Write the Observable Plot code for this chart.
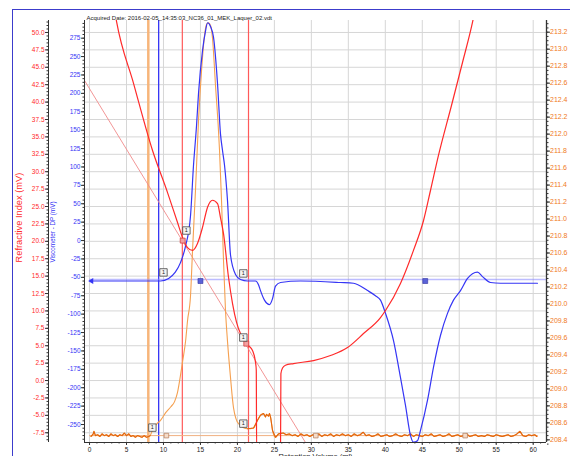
<!DOCTYPE html>
<html><head><meta charset="utf-8">
<script src="https://cdn.jsdelivr.net/npm/d3@7"></script>
<script src="https://cdn.jsdelivr.net/npm/@observablehq/plot@0.6"></script>
<style>
body{margin:0;background:#fff;font-family:"Liberation Sans",Arial,sans-serif;}
#wrap{position:relative;width:570px;height:456px;overflow:hidden;background:#fff;}
#border{position:absolute;left:12px;top:9px;width:700px;height:600px;border-left:1.5px solid #3c3ccc;border-top:1.5px solid #3c3ccc;pointer-events:none;}
#chart{position:absolute;left:0;top:0;}
</style></head><body><div id="wrap"><div id="chart"></div><div id="border"></div></div>
<script>
// ---- text ----
const title = "Acquired Date: 2016-02-05_14:35:03_NC36_01_MEK_Laquer_02.vdt";
const xTitle = "Retention Volume (ml)";
const riTitle = "Refractive Index (mV)";
const viscTitle = "Viscometer - DP (mV)";

// ---- tick labels ----
const xTicks = [0,5,10,15,20,25,30,35,40,45,50,55,60];
const riTicks = [50.0,47.5,45.0,42.5,40.0,37.5,35.0,32.5,30.0,27.5,25.0,22.5,20.0,17.5,15.0,12.5,10.0,7.5,5.0,2.5,0.0,-2.5,-5.0,-7.5];
const viscTicks = [275,250,225,200,175,150,125,100,75,50,25,0,-25,-50,-75,-100,-125,-150,-175,-200,-225,-250];
const rightTicks = [213.2,213.0,212.8,212.6,212.4,212.2,212.0,211.8,211.6,211.4,211.2,211.0,210.8,210.6,210.4,210.2,210.0,209.8,209.6,209.4,209.2,209.0,208.8,208.6,208.4];

// ---- Refractive index trace (ml, mV) ----
const riVolume = [3.5,3.65,5.95,8.52,10.55,11.9,12.58,13.25,13.93,14.6,15.28,15.96,16.63,17.31,17.71,18.12,18.8,19.34,20.42,20.82,21.5,22.04,22.45,22.55,22.6,25.83,25.88,26.1,26.5,27.59,30.29,32.59,34.89,37.05,39.35,40.03,42.05,43.81,45.17,46.11,47.19,48.95,50.44,51.79,52.0];
const riSignal = [52.5,51.6,42.7,33.05,27.0,22.7,20.55,19.1,18.7,19.7,22.0,24.9,25.9,25.4,23.4,21.1,14.8,11.06,6.75,6.18,5.03,4.31,2.6,1.5,-10,-10,1.0,1.8,2.2,2.44,2.87,3.59,4.74,6.75,9.05,10.06,13.94,18.7,22.99,27.3,32.33,39.51,45.69,51.44,52.5];

// ---- Viscometer DP trace (ml, mV) ----
const viscVolume = [0.27,8.25,9.6,10.7,11.6,12.3,13.0,13.66,14.06,14.47,14.74,15.28,15.69,15.96,16.36,16.77,17.31,17.71,17.99,18.26,18.66,19.07,19.74,20.42,21.37,22.45,22.85,23.12,23.66,24.34,24.75,25.15,25.83,28.53,33.94,35.7,37.6,38.67,39.35,40.03,41.11,42.05,42.73,43.41,43.81,44.35,44.76,45.71,46.52,47.46,48.41,49.22,50.17,51.12,51.79,52.47,53.14,54.23,55.58,60.58];
const viscSignal = [-55,-55,-55,-51.5,-43,-30,-7,34,102,156,200,258,285,296,291,276,213,145,122,102,54,-20,-46,-53,-55,-55,-60,-68,-81,-87,-79,-62,-57,-55,-57,-58,-68,-75,-81,-99,-136,-186,-224,-265,-274,-272,-258,-217,-172,-129,-99,-81,-68,-51.5,-45,-43,-49,-57,-58,-58];

// ---- Right-axis detector trace (ml, mV) ----
const rVolume = [0.2,0.5,0.6,0.8,1.1,1.4,1.7,2.0,2.3,2.6,2.9,3.2,3.5,3.8,4.1,4.4,4.7,5.0,5.3,5.6,5.9,6.2,6.5,6.8,7.1,7.4,7.7,8.0,8.2,8.5,9.0,9.6,10.3,11.0,11.5,11.9,12.3,12.6,13.0,13.25,13.66,13.93,14.33,14.74,15.15,15.55,15.82,16.09,16.36,16.63,17.04,17.44,17.58,17.85,18.12,18.39,18.66,19.07,19.47,20.15,21.37,22.18,22.72,23.12,23.53,23.8,23.93,24.2,24.34,24.5,24.75,25.15,25.56,26.2,26.6,27.0,27.4,27.8,28.2,28.6,29.0,29.4,29.8,30.2,30.6,31.0,31.4,31.8,32.2,32.6,33.0,33.4,33.8,34.2,34.6,35.0,35.4,35.8,36.2,36.6,37.0,37.4,37.8,38.2,38.6,39.0,39.4,39.8,40.2,40.6,41.0,41.4,41.8,42.2,42.6,43.0,43.4,43.8,44.2,44.6,45.0,45.4,45.8,46.2,46.6,47.0,47.4,47.8,48.2,48.6,49.0,49.4,49.8,50.2,50.6,51.0,51.4,51.8,52.2,52.6,53.0,53.4,53.8,54.2,54.6,55.0,55.4,55.8,56.2,56.6,57.0,57.4,57.8,58.2,58.6,59.0,59.4,59.8,60.2,60.5];
const rSignal = [208.44,208.47,208.50,208.45,208.46,208.44,208.47,208.45,208.46,208.44,208.47,208.45,208.46,208.44,208.46,208.45,208.48,208.45,208.47,208.44,208.45,208.43,208.45,208.44,208.43,208.45,208.43,208.44,208.45,208.51,208.58,208.63,208.72,208.79,208.85,208.96,209.16,209.33,209.57,209.80,210.10,210.63,211.34,212.16,212.75,213.16,213.29,213.31,213.28,213.13,212.57,212.04,211.81,211.22,210.51,209.92,209.56,209.13,208.78,208.59,208.53,208.54,208.63,208.69,208.71,208.67,208.70,208.68,208.71,208.66,208.51,208.43,208.47,208.48,208.46,208.47,208.45,208.46,208.44,208.47,208.45,208.46,208.44,208.46,208.45,208.47,208.44,208.46,208.45,208.47,208.44,208.46,208.45,208.47,208.45,208.46,208.44,208.47,208.45,208.46,208.49,208.45,208.46,208.44,208.45,208.47,208.44,208.45,208.46,208.44,208.45,208.47,208.45,208.44,208.46,208.45,208.47,208.44,208.46,208.45,208.44,208.46,208.45,208.47,208.44,208.45,208.46,208.44,208.45,208.47,208.44,208.45,208.46,208.44,208.45,208.47,208.44,208.45,208.46,208.44,208.45,208.44,208.46,208.45,208.44,208.46,208.45,208.44,208.45,208.46,208.44,208.45,208.47,208.50,208.45,208.44,208.46,208.45,208.46,208.44];

// ---- limit / marker lines (ml) ----
const orangeLimits = [7.95];
const blueLimits = [9.35];
const redLimits = [12.55, 21.5];
// baselines
const viscBaseline = -53;           // mV
const rBaseline = 208.45;           // mV
const riBaseVolume = [-1, 30];
const riBaseSignal = [43.66, -10.28];
// square markers
const viscMarkVolume = [15.0, 45.4];
const riMarkVolume = [12.6, 21.2];
const riMarkSignal = [20.1, 5.3];
const rMarkVolume = [10.4, 30.6, 50.8];
// "1" flags: [ml, value, detector]
const flagVolume = [8.5, 10.0, 13.1, 20.8, 20.8, 20.8];
const flagValue  = [208.544, -43.3, 21.55, -44.7, 6.18, 208.591];
const flagDet    = ["r", "v", "ri", "v", "ri", "r"];

// ---- axis mapping onto the shared (RI) y scale ----
const X0 = -0.68, X1 = 61.8, Y0 = -8.9, Y1 = 51.72;
const vToRI = v => 20.11 + 0.10571 * v;
const riToV = r => (r - 20.11) / 0.10571;
const wToRI = w => 50.04 + (w - 213.2) * 12.2;
const riToW = r => 213.2 + (r - 50.04) / 12.2;
const toRI = {r: wToRI, v: vToRI, ri: d => d};

const riData = riVolume.map((x, i) => ({x, y: riSignal[i]}));
const viscData = viscVolume.map((x, i) => ({x, y: vToRI(viscSignal[i])}));
const rData = rVolume.map((x, i) => ({x, y: wToRI(rSignal[i])}));
const riBase = riBaseVolume.map((x, i) => ({x, y: riBaseSignal[i]}));
const flags = flagVolume.map((x, i) => ({x, y: toRI[flagDet[i]](flagValue[i])}));

const RED = "#ff2a2a", BLUE = "#3535f5", ORANGE = "#f07a1c", AX = "#333";
const FS = 6.5;

const chart = Plot.plot({
  width: 570, height: 456,
  marginLeft: 84, marginRight: 24, marginTop: 20, marginBottom: 14,
  style: {fontFamily: "'Liberation Sans', Arial, sans-serif", background: "transparent", overflow: "visible"},
  x: {domain: [X0, X1]},
  y: {domain: [Y0, Y1]},
  marks: [
    Plot.gridX({ticks: xTicks, stroke: "#d6d6d6", strokeOpacity: 1}),
    Plot.gridY({ticks: riTicks, stroke: "#d6d6d6", strokeOpacity: 1}),
    Plot.ruleX(orangeLimits, {stroke: "#f7b57a", strokeWidth: 2.5}),
    Plot.ruleX(blueLimits, {stroke: BLUE, strokeWidth: 1.3}),
    Plot.ruleX(redLimits, {stroke: "#ff5a5a", strokeWidth: 1.2}),
    Plot.ruleY([vToRI(viscBaseline)], {x1: 0, x2: X1, stroke: "#8585ff", strokeOpacity: 0.55, strokeWidth: 1.5}),
    Plot.ruleY([wToRI(rBaseline)], {x1: 0, x2: 60.7, stroke: "#f0b080", strokeWidth: 1}),
    Plot.line(riBase, {x: "x", y: "y", stroke: "#f08a8a", strokeWidth: 0.9, clip: true}),
    Plot.line(rData, {x: "x", y: "y", stroke: "#f5a050", strokeWidth: 1.1, curve: "monotone-x", clip: true}),
    Plot.line(rData, {filter: d => d.x < 8.3, x: "x", y: "y", stroke: "#e2640c", strokeWidth: 1.1, clip: true}),
    Plot.line(rData, {filter: d => d.x > 20.5, x: "x", y: "y", stroke: "#e2640c", strokeWidth: 1.1, clip: true}),
    Plot.line(viscData, {x: "x", y: "y", stroke: BLUE, strokeWidth: 1.2, curve: "monotone-x", clip: true}),
    Plot.line(riData, {x: "x", y: "y", stroke: RED, strokeWidth: 1.2, curve: "monotone-x", clip: true}),
    Plot.dot([viscData[0]], {x: "x", y: "y", symbol: "triangle", r: 2.2, rotate: -90, fill: BLUE, stroke: null}),
    Plot.dot(viscMarkVolume, {x: d => d, y: () => vToRI(viscBaseline - 2), symbol: "square", r: 2.8, fill: "#5a62d8", stroke: "#3030a0", strokeWidth: 0.6}),
    Plot.dot(riMarkVolume.map((x, i) => ({x, y: riMarkSignal[i]})), {x: "x", y: "y", symbol: "square", r: 2.8, fill: "#f3a0a0", stroke: "#d03030", strokeWidth: 0.7}),
    Plot.dot(rMarkVolume, {x: d => d, y: () => wToRI(rBaseline), symbol: "square", r: 2.6, fill: "#f6dcc8", stroke: "#b07a5a", strokeWidth: 0.7}),
    Plot.dot(flags, {x: "x", y: "y", symbol: "square", r: 4.2, fill: "#f4f4f4", stroke: "#444", strokeWidth: 0.8}),
    Plot.text(flags, {x: "x", y: "y", text: () => "1", fontSize: 5.5, fill: "#222"}),
    // axes
    Plot.ruleY([Y0], {stroke: AX, strokeWidth: 1}),
    Plot.ruleX([X0], {stroke: AX, strokeWidth: 1}),
    Plot.ruleX([X0], {stroke: AX, strokeWidth: 1, dx: -36}),
    Plot.ruleX([X1], {stroke: AX, strokeWidth: 1.3}),
    Plot.axisX({ticks: xTicks, tickSize: 3, tickPadding: 1.5, fontSize: FS, stroke: AX, fill: "#222", label: null}),
    Plot.axisX({ticks: d3.range(0, 62, 1), tickSize: 1.5, tickFormat: () => "", stroke: AX, label: null}),
    Plot.axisY({ticks: riTicks, anchor: "left", dx: -36, tickSize: 3, tickPadding: 1, fontSize: FS, stroke: AX, fill: RED, tickFormat: d => d.toFixed(1), label: null}),
    Plot.axisY({ticks: d3.range(-8.5, 51.6, 0.5), anchor: "left", dx: -36, tickSize: 1.5, tickFormat: () => "", stroke: AX, label: null}),
    Plot.axisY({ticks: viscTicks.map(vToRI), anchor: "left", tickSize: 3, tickPadding: 1, fontSize: FS, stroke: AX, fill: BLUE, tickFormat: d => String(Math.round(riToV(d))), label: null}),
    Plot.axisY({ticks: d3.range(-270, 296, 5).map(vToRI), anchor: "left", tickSize: 1.5, tickFormat: () => "", stroke: AX, label: null}),
    Plot.axisY({ticks: rightTicks.map(wToRI), anchor: "right", tickSize: 3, tickPadding: 0.5, fontSize: 7, stroke: AX, fill: ORANGE, tickFormat: d => riToW(d).toFixed(1), label: null}),
    Plot.axisY({ticks: d3.range(208.35, 213.31, 0.05).map(wToRI), anchor: "right", tickSize: 1.5, tickFormat: () => "", stroke: AX, label: null}),
    // titles
    Plot.text([title], {frameAnchor: "top-left", dx: 2, dy: -5, textAnchor: "start", fontSize: 6, fill: "#222"}),
    Plot.text([xTitle], {frameAnchor: "bottom", dy: 11, lineAnchor: "top", textAnchor: "middle", fontSize: 7.5, fill: "#222"}),
    Plot.text([riTitle], {frameAnchor: "left", dx: -65, dy: 31, rotate: -90, textAnchor: "start", fontSize: 9.3, fill: RED}),
    Plot.text([viscTitle], {frameAnchor: "left", dx: -32, dy: 31, rotate: -90, textAnchor: "start", fontSize: 6.3, fill: BLUE})
  ]
});
document.getElementById("chart").appendChild(chart);
</script>
</body></html>
